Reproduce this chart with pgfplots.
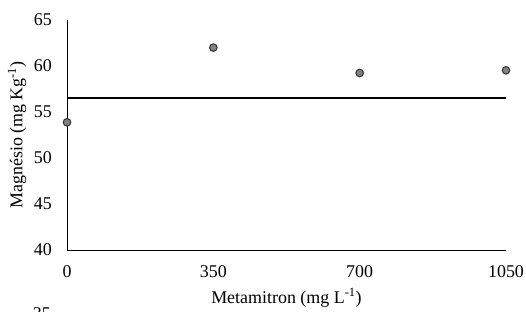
\documentclass[border=0pt]{standalone}
\usepackage{fontspec}
\setmainfont{Liberation Serif}
\usepackage{pgfplots}
\pgfplotsset{compat=1.18}
\begin{document}
\fontsize{18}{21}\selectfont
\begin{tikzpicture}[x=1bp,y=1bp]
\useasboundingbox (0,0) rectangle (526,311);
\begin{axis}[
  at={(67bp,61bp)}, anchor=south west,
  scale only axis, width=439bp, height=230bp,
  xmin=0, xmax=1050, ymin=40, ymax=65,
  xtick={0,350,700,1050}, ytick={40,45,50,55,60,65},
  axis x line*=bottom, axis y line*=left,
  axis line style={-, black, line width=0.9bp},
  major tick length=0pt,
  /pgf/number format/assume math mode=true,
  /pgf/number format/1000 sep={},
  yticklabel style={anchor=east, xshift=-9bp},
  xticklabel style={anchor=north, yshift=-9bp},
  xlabel={Metamitron (mg L\textsuperscript{-1})},
  ylabel={Magnésio (mg Kg\textsuperscript{-1})},
  xlabel style={at={(axis description cs:0.5,0)}, anchor=base, yshift=-53bp},
  ylabel style={at={([xshift=-50bp]axis description cs:0,0.5)}, anchor=center},
  clip=false,
]
\addplot[black, line width=2bp] coordinates {(0,56.55) (1050,56.55)};
\addplot[only marks, mark=*, mark size=3.8bp, mark options={fill=black!50, draw=black!80, line width=1bp}] coordinates {
(0,53.88) (350,62.0) (700,59.24) (1050,59.53)};
\end{axis}
\node[anchor=north east, inner sep=0pt] at (51bp,4bp) {35};
\end{tikzpicture}
\end{document}
